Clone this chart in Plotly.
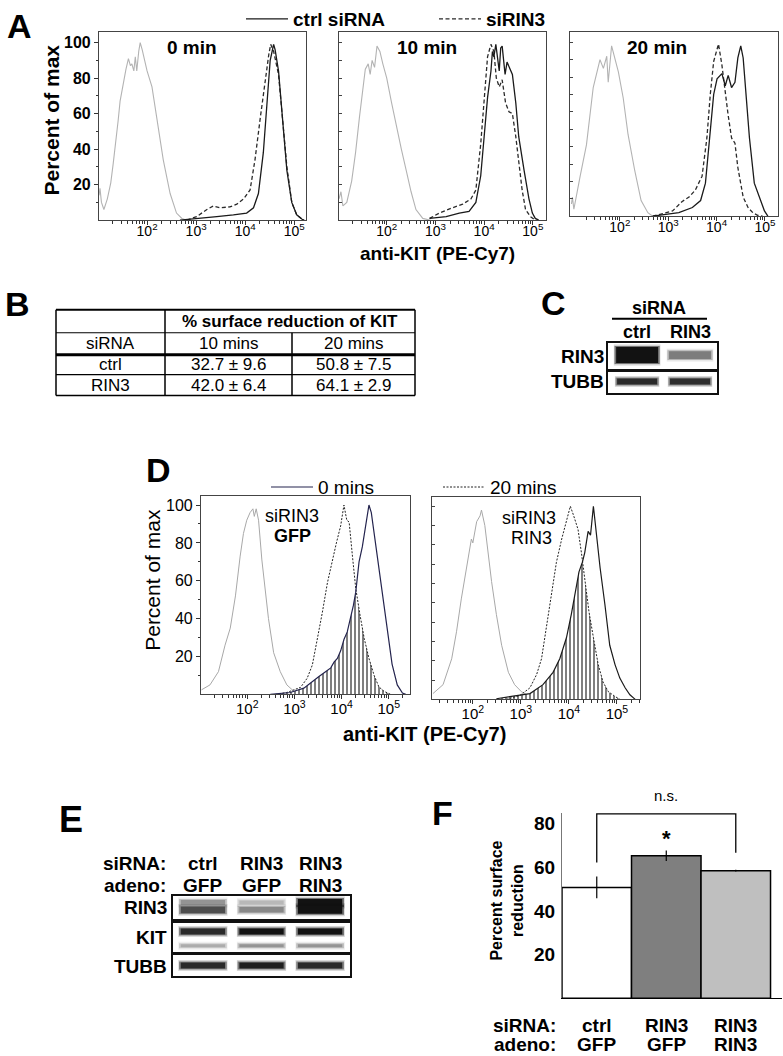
import plotly.graph_objects as go

W, H = 783, 1056
FONT = "Liberation Sans, Arial, Helvetica, sans-serif"

# ---------------- DATA ----------------
# Panel A: flow histograms, x = log10(anti-KIT PE-Cy7), y = percent of max
A0_iso_log = [1.02, 1.04, 1.07, 1.12, 1.19, 1.26, 1.31, 1.36, 1.41, 1.45, 1.52, 1.57, 1.62, 1.66, 1.69, 1.73, 1.76, 1.79, 1.83, 1.86, 1.9, 1.93, 2.0, 2.1, 2.2, 2.33, 2.47, 2.6, 2.71, 2.81]
A0_iso_pct = [14, 18, 10, 6, 12, 21, 32, 43, 56, 67, 79, 85, 91, 87, 88, 84, 92, 84, 95, 100, 96, 92, 84, 75, 56, 34, 15, 4, 1, 0]
A0_ctrl_log = [2.67, 3.08, 3.42, 3.76, 4.03, 4.17, 4.27, 4.37, 4.44, 4.51, 4.58, 4.61, 4.68, 4.75, 4.85, 4.95, 5.05, 5.16, 5.2]
A0_ctrl_pct = [0, 1.3, 2, 3, 4, 7, 15, 38, 66, 90, 99, 96, 84, 60, 28, 10, 3, 0.5, 0]
A0_si_log = [2.81, 3.01, 3.22, 3.35, 3.49, 3.69, 3.83, 3.97, 4.1, 4.2, 4.31, 4.41, 4.48, 4.52, 4.58, 4.68, 4.75, 4.85, 4.95, 5.05, 5.16, 5.2]
A0_si_pct = [0, 2, 6, 8, 7, 7.5, 9, 12, 17, 34, 58, 80, 93, 99, 95, 82, 62, 30, 10, 3, 0.5, 0]

A10_iso_log = [1.02, 1.06, 1.1, 1.18, 1.28, 1.36, 1.44, 1.5, 1.56, 1.62, 1.66, 1.7, 1.75, 1.8, 1.86, 1.92, 2.0, 2.1, 2.2, 2.3, 2.4, 2.5, 2.6, 2.74, 2.9]
A10_iso_pct = [12, 16, 8, 10, 22, 38, 58, 72, 85, 88, 82, 90, 86, 98, 95, 88, 80, 66, 52, 40, 28, 16, 6, 1, 0]
A10_ctrl_log = [2.88, 3.22, 3.49, 3.69, 3.83, 3.93, 4.0, 4.07, 4.14, 4.17, 4.2, 4.24, 4.31, 4.34, 4.37, 4.43, 4.47, 4.54, 4.58, 4.65, 4.71, 4.82, 4.92, 4.99, 5.05, 5.12]
A10_ctrl_pct = [1, 2, 4, 5, 10, 25, 47, 69, 84, 95, 92, 99, 84, 97, 98, 82, 89, 84, 82, 66, 47, 28, 12, 4, 1, 0]
A10_si_log = [2.88, 3.08, 3.35, 3.56, 3.73, 3.83, 3.93, 4.02, 4.07, 4.14, 4.2, 4.25, 4.31, 4.37, 4.44, 4.51, 4.58, 4.65, 4.71, 4.78, 4.85, 4.95, 5.05]
A10_si_pct = [1, 4, 7, 9, 12, 17, 43, 75, 92, 99, 95, 80, 75, 79, 66, 61, 60, 47, 32, 17, 6, 2, 0]

A20_iso_log = [1.0, 1.02, 1.05, 1.1, 1.18, 1.31, 1.45, 1.59, 1.66, 1.73, 1.76, 1.83, 1.9, 1.97, 2.07, 2.17, 2.31, 2.44, 2.58, 2.68]
A20_iso_pct = [7, 11, 4, 12, 23, 41, 74, 90, 85, 92, 77, 98, 91, 83, 68, 47, 26, 9, 2, 0]
A20_ctrl_log = [2.68, 2.95, 3.22, 3.5, 3.67, 3.77, 3.87, 3.94, 4.01, 4.11, 4.18, 4.24, 4.31, 4.38, 4.44, 4.5, 4.55, 4.61, 4.68, 4.78, 4.89, 4.99, 5.06]
A20_ctrl_pct = [0, 1, 2, 5, 9, 19, 49, 70, 79, 82, 75, 81, 74, 77, 91, 98, 91, 70, 45, 19, 11, 3, 0]
A20_si_log = [2.68, 3.09, 3.29, 3.43, 3.56, 3.7, 3.8, 3.87, 3.94, 4.01, 4.04, 4.11, 4.18, 4.24, 4.31, 4.38, 4.44, 4.55, 4.65, 4.75, 4.85, 4.95]
A20_si_pct = [0, 3, 8.5, 11, 15, 23, 45, 70, 89, 97, 99, 87, 70, 58, 45, 42, 28, 11, 5, 2, 0.5, 0]

A_titles = ["0 min", "10 min", "20 min"]
A_legend = ["ctrl siRNA", "siRIN3"]

# Panel B: % surface reduction of KIT
B_siRNA = ["ctrl", "RIN3"]
B_times = ["10 mins", "20 mins"]
B_mean_10 = [32.7, 42.0]
B_sd_10 = [9.6, 6.4]
B_mean_20 = [50.8, 64.1]
B_sd_20 = [7.5, 2.9]

# Panel C: western blot band intensities (0..1)
C_lanes = ["ctrl", "RIN3"]
C_rows = ["RIN3", "TUBB"]
C_RIN3_band = [1.0, 0.55]
C_TUBB_band = [0.9, 0.88]

# Panel D: flow histograms
D_gfp_iso_log = [1.03, 1.21, 1.39, 1.53, 1.64, 1.75, 1.85, 1.92, 1.99, 2.06, 2.12, 2.15, 2.19, 2.24, 2.31, 2.38, 2.45, 2.56, 2.7, 2.84, 2.99, 3.13, 3.27]
D_gfp_iso_pct = [2.4, 5, 12, 26, 35, 52, 73, 85, 92, 96, 98, 94, 98, 92, 71, 57, 40, 22, 12, 5, 1.6, 0.7, 0]
D_gfp_0_log = [2.49, 2.91, 3.2, 3.38, 3.52, 3.66, 3.77, 3.84, 3.91, 3.98, 4.05, 4.12, 4.19, 4.25, 4.3, 4.37, 4.44, 4.51, 4.58, 4.63, 4.69, 4.76, 4.86, 4.97, 5.07, 5.18, 5.29, 5.36]
D_gfp_0_pct = [0, 1, 3.3, 7, 9.4, 12, 14, 17, 19, 23, 29, 33, 40, 47, 54, 70, 78, 89, 100, 96, 85, 73, 52, 33, 16, 5, 0.7, 0]
D_gfp_20_log = [2.6, 2.84, 3.13, 3.27, 3.38, 3.49, 3.59, 3.7, 3.8, 3.89, 3.98, 4.05, 4.11, 4.16, 4.23, 4.3, 4.39, 4.48, 4.58, 4.69, 4.79, 4.9, 5.04]
D_gfp_20_pct = [0, 1, 3.7, 8.5, 15.5, 29.5, 43, 59, 71, 80, 89, 100, 92, 91, 73, 56, 42, 29.5, 19, 10, 4, 1.6, 0]
D_gfp_cross = 4.3

D_rin_iso_log = [1.17, 1.38, 1.56, 1.66, 1.76, 1.87, 1.97, 2.0, 2.08, 2.15, 2.18, 2.25, 2.32, 2.39, 2.49, 2.6, 2.74, 2.87, 3.01, 3.12, 3.26]
D_rin_iso_pct = [3, 7.6, 21, 35, 52, 69, 83, 81, 92, 95, 98, 90, 75, 61, 44, 28, 14, 7.6, 4, 2.4, 0.5]
D_rin_0_log = [2.49, 2.84, 3.19, 3.46, 3.67, 3.81, 3.95, 4.05, 4.14, 4.21, 4.28, 4.33, 4.4, 4.45, 4.51, 4.58, 4.65, 4.75, 4.85, 4.96, 5.06, 5.17, 5.27, 5.38]
D_rin_0_pct = [0.3, 1.5, 3, 7.6, 14, 21, 32, 44, 56, 66, 71, 76, 87, 85, 100, 83, 68, 49, 28, 18, 11, 6, 2.4, 0]
D_rin_20_log = [2.7, 2.98, 3.19, 3.33, 3.43, 3.53, 3.64, 3.74, 3.85, 3.95, 4.03, 4.1, 4.19, 4.26, 4.33, 4.42, 4.51, 4.61, 4.71, 4.82, 4.96, 5.06]
D_rin_20_pct = [0, 2, 6, 13, 21, 37, 56, 71, 83, 93, 100, 95, 88, 76, 61, 45, 32, 18, 9, 4, 1.5, 0]
D_rin_cross = 4.3
D_legend = ["0 mins", "20 mins"]

# Panel E: western blot band intensities (0..1)
E_siRNA = ["ctrl", "RIN3", "RIN3"]
E_adeno = ["GFP", "GFP", "RIN3"]
E_rows = ["RIN3", "KIT", "TUBB"]
E_RIN3_upper = [0.45, 0.3, 1.0]
E_RIN3_lower = [0.75, 0.5, 1.0]
E_KIT_upper = [0.9, 1.0, 1.0]
E_KIT_lower = [0.35, 0.45, 0.45]
E_TUBB_band = [0.9, 0.95, 0.9]

# Panel F: percent surface reduction
F_siRNA = ["ctrl", "RIN3", "RIN3"]
F_adeno = ["GFP", "GFP", "RIN3"]
F_mean = [50.8, 65.4, 58.5]
F_err = [5.0, 2.4, 0.4]
F_colors = ["#ffffff", "#7f7f7f", "#bfbfbf"]

# ---------------- HELPERS ----------------
def X(px):
    return px / W


def Y(py):
    return 1 - py / H


fig = go.Figure()
layout = {}
annotations = []
shapes = []


def ref(i):
    return ("x", "y") if i == 1 else (f"x{i}", f"y{i}")


def set_axes(i, left, right, top, bottom, xkw, ykw):
    xr, yr = ref(i)
    xn = "xaxis" if i == 1 else f"xaxis{i}"
    yn = "yaxis" if i == 1 else f"yaxis{i}"
    layout[xn] = dict(domain=[X(left), X(right)], anchor=yr, fixedrange=True, **xkw)
    layout[yn] = dict(domain=[Y(bottom), Y(top)], anchor=xr, fixedrange=True, **ykw)


def ann(text, x, y, size, bold=False, xanchor="center", yanchor="middle", angle=0, xref="paper", color="black"):
    annotations.append(dict(
        text=text, x=x if xref != "paper" else X(x), y=Y(y), xref=xref, yref="paper",
        xanchor=xanchor, yanchor=yanchor, showarrow=False, textangle=angle, borderpad=0,
        font=dict(family=FONT, size=size, color=color, weight="bold" if bold else "normal")))


def line_shape(x0, y0, x1, y1, width=1.2, color="black"):
    shapes.append(dict(type="line", xref="paper", yref="paper", x0=X(x0), y0=Y(y0), x1=X(x1), y1=Y(y1),
                       line=dict(color=color, width=width)))


MINOR = [k * 10 ** d for d in range(1, 6) for k in range(2, 10)]


def flow_x(rng, size, standoff):
    return dict(type="log", range=rng, tickvals=[1e2, 1e3, 1e4, 1e5],
                ticktext=["10<sup>2</sup>", "10<sup>3</sup>", "10<sup>4</sup>", "10<sup>5</sup>"],
                ticks="outside", ticklen=4, tickwidth=1, tickcolor="#333", ticklabelstandoff=standoff,
                minor=dict(tickvals=MINOR, ticks="outside", ticklen=2.5, tickwidth=1, tickcolor="#333"),
                showline=True, mirror=True, linecolor="#444", linewidth=1.2,
                showgrid=False, zeroline=False,
                tickfont=dict(family=FONT, size=size, color="black"))


def flow_y(rng, labels, size=16, bold=False):
    d = dict(range=rng, showline=True, mirror=True, linecolor="#444", linewidth=1.2,
             showgrid=False, zeroline=False)
    if labels:
        d.update(tickvals=[20, 40, 60, 80, 100], ticks="outside", ticklen=4, tickcolor="#333",
                 tickfont=dict(family=FONT, size=size, color="black", weight="bold" if bold else "normal"),
                 minor=dict(tickvals=[10, 30, 50, 70, 90], ticks="outside", ticklen=2, tickcolor="#333"))
    else:
        d.update(tickvals=[10, 20, 30, 40, 50, 60, 70, 80, 90, 100], ticks="inside", ticklen=3,
                 tickcolor="#444", showticklabels=False)
    return d


def flow_line(i, logs, pct, color, width=1.1, dash="solid", name=None, legend=None):
    xr, yr = ref(i)
    fig.add_trace(go.Scatter(
        x=[10 ** v for v in logs], y=pct, mode="lines",
        line=dict(color=color, width=width, dash=dash),
        xaxis=xr, yaxis=yr, name=name if name else "", showlegend=name is not None,
        legend=legend if legend else "legend", hoverinfo="skip"))


def hatch(i, s_log, s_pct, d_log, d_pct, cross):
    xr, yr = ref(i)
    hx = [l for l in s_log if l <= cross] + [l for l in d_log if l > cross]
    hy = [p for l, p in zip(s_log, s_pct) if l <= cross] + [p for l, p in zip(d_log, d_pct) if l > cross]
    fig.add_trace(go.Scatter(
        x=[10 ** v for v in hx], y=hy, mode="lines", line=dict(width=0, color="black"),
        fill="tozeroy", fillcolor="rgba(0,0,0,0)",
        fillpattern=dict(shape="|", fgcolor="black", bgcolor="white", size=4, solidity=0.5),
        xaxis=xr, yaxis=yr, showlegend=False, hoverinfo="skip"))


def band(i, lane, ypos, inten, thick, half=0.43):
    xr, yr = ref(i)
    g = int(round(255 * (1 - 0.93 * inten)))
    for extra, alpha, hw in ((5, 0.18, 1.0), (2, 0.5, 0.97), (0, 1.0, 0.9)):
        h = half * hw
        fig.add_trace(go.Scatter(
            x=[lane - h, lane + h], y=[ypos, ypos], mode="lines",
            line=dict(color=f"rgba({g},{g},{g},{alpha})", width=thick + extra),
            xaxis=xr, yaxis=yr, showlegend=False, hoverinfo="skip"))


blot_x = lambda rng: dict(range=rng, showline=True, mirror=True, linecolor="#111", linewidth=1.5,
                          ticks="", showticklabels=False, showgrid=False, zeroline=False)
blot_y = dict(range=[0, 1], showline=True, mirror=True, linecolor="#111", linewidth=1.5,
              ticks="", showticklabels=False, showgrid=False, zeroline=False)

ISO = "#b3b3b3"
DARK = "#1a1a1a"

# ---------------- PANEL A ----------------
set_axes(1, 99, 306, 28, 217, flow_x([1.02, 5.24], 14, -6), flow_y([0, 106], True, 16, True))
set_axes(2, 339, 546, 28, 217, flow_x([1.02, 5.27], 14, -6), flow_y([0, 106], False))
set_axes(3, 570, 778, 28, 213, flow_x([0.97, 5.27], 14, -6), flow_y([0, 106], False))

A_sets = [(A0_iso_log, A0_iso_pct, A0_ctrl_log, A0_ctrl_pct, A0_si_log, A0_si_pct),
          (A10_iso_log, A10_iso_pct, A10_ctrl_log, A10_ctrl_pct, A10_si_log, A10_si_pct),
          (A20_iso_log, A20_iso_pct, A20_ctrl_log, A20_ctrl_pct, A20_si_log, A20_si_pct)]
for k, (il, ip, cl, cp, sl, sp) in enumerate(A_sets):
    i = k + 1
    flow_line(i, il, ip, ISO, 1.1)
    flow_line(i, sl, sp, "#2a2a2a", 1.3, "4px,2.5px",
              name=f"<b>{A_legend[1]}</b>" if k == 0 else None, legend="legend")
    flow_line(i, cl, cp, DARK, 1.3, "solid",
              name=f"<b>{A_legend[0]}</b>" if k == 0 else None, legend="legend")

ann("A", 19, 22, 34, True)
ann(A_titles[0], 192, 44, 19, True)
ann(A_titles[1], 427, 44, 19, True)
ann(A_titles[2], 657, 44, 19, True)
ann("Percent of max", 52, 117, 21, True, angle=-90)
ann("anti-KIT (PE-Cy7)", 438, 250, 19, True)

# ---------------- PANEL B (table) ----------------
ann("B", 17, 301, 34, True)
tx = [56, 165, 292, 415]
ty = [307, 330, 352, 372, 393]
line_shape(tx[0], ty[0], tx[3], ty[0], 2)
line_shape(tx[0], ty[1], tx[3], ty[1], 1.2)
line_shape(tx[0], ty[2], tx[3], ty[2], 3)
line_shape(tx[0], ty[3], tx[3], ty[3], 1.2)
line_shape(tx[0], ty[4], tx[3], ty[4], 1.6)
line_shape(tx[0], ty[0], tx[0], ty[4], 1.5)
line_shape(tx[1], ty[0], tx[1], ty[4], 1.5)
line_shape(tx[2], ty[1], tx[2], ty[4], 1.5)
line_shape(tx[3], ty[0], tx[3], ty[4], 1.5)
ann("% surface reduction of KIT", (tx[1] + tx[3]) / 2, (ty[0] + ty[1]) / 2, 17, True)
ann("siRNA", (tx[0] + tx[1]) / 2, (ty[1] + ty[2]) / 2, 17)
ann(B_times[0], (tx[1] + tx[2]) / 2, (ty[1] + ty[2]) / 2, 17)
ann(B_times[1], (tx[2] + tx[3]) / 2, (ty[1] + ty[2]) / 2, 17)
for r in range(2):
    yc = (ty[2 + r] + ty[3 + r]) / 2
    ann(B_siRNA[r], (tx[0] + tx[1]) / 2, yc, 17)
    ann(f"{B_mean_10[r]:.1f} ± {B_sd_10[r]:.1f}", (tx[1] + tx[2]) / 2, yc, 17)
    ann(f"{B_mean_20[r]:.1f} ± {B_sd_20[r]:.1f}", (tx[2] + tx[3]) / 2, yc, 17)

# ---------------- PANEL C (blot) ----------------
ann("C", 553, 300, 34, True)
ann("siRNA", 659, 305, 18, True)
line_shape(612, 316, 707, 316, 2)
set_axes(6, 608, 717, 340, 367, blot_x([-0.55, 1.51]), blot_y)
set_axes(7, 608, 717, 368, 390, blot_x([-0.55, 1.51]), blot_y)
for lane in range(len(C_lanes)):
    annotations.append(dict(text=C_lanes[lane], x=lane, y=Y(329), xref="x6", yref="paper",
                            showarrow=False, xanchor="center", yanchor="middle", borderpad=0,
                            font=dict(family=FONT, size=18, color="black", weight="bold")))
    band(6, lane, 0.54, C_RIN3_band[lane], 4 + 12 * C_RIN3_band[lane] ** 2, 0.44)
    band(7, lane, 0.5, C_TUBB_band[lane], 6, 0.42)
ann(C_rows[0], 605, 354, 19, True, xanchor="right")
ann(C_rows[1], 605, 379, 19, True, xanchor="right")

# ---------------- PANEL D ----------------
set_axes(4, 201, 410, 494, 693, flow_x([1.02, 5.45], 15, -3), flow_y([0, 104.7], True, 16, False))
set_axes(5, 432, 640, 495, 698, flow_x([1.15, 5.48], 15, -3), flow_y([0, 104.7], False))

flow_line(4, D_gfp_iso_log, D_gfp_iso_pct, "#a8a8a8", 1.0)
hatch(4, D_gfp_0_log, D_gfp_0_pct, D_gfp_20_log, D_gfp_20_pct, D_gfp_cross)
flow_line(4, D_gfp_20_log, D_gfp_20_pct, "#222", 1.0, "2px,1.5px")
flow_line(4, D_gfp_0_log, D_gfp_0_pct, "#24244e", 1.2, "solid", name=D_legend[0], legend="legend2")

flow_line(5, D_rin_iso_log, D_rin_iso_pct, "#a8a8a8", 1.0)
hatch(5, D_rin_0_log, D_rin_0_pct, D_rin_20_log, D_rin_20_pct, D_rin_cross)
flow_line(5, D_rin_20_log, D_rin_20_pct, "#222", 1.0, "2px,1.5px", name=D_legend[1], legend="legend3")
flow_line(5, D_rin_0_log, D_rin_0_pct, "#1a1a1a", 1.2, "solid")

ann("D", 158, 468, 34, True)
ann("Percent of max", 153, 578, 21, False, angle=-90)
ann("siRIN3", 292, 514, 18)
ann("GFP", 292, 534, 18, True)
ann("siRIN3", 529, 516, 18)
ann("RIN3", 531, 536, 18)
ann("anti-KIT (PE-Cy7)", 424, 733, 20, True)

# ---------------- PANEL E (blot) ----------------
ann("E", 71, 819, 36, True)
ann("siRNA:", 167, 863, 19, True, xanchor="right")
ann("adeno:", 167, 885, 19, True, xanchor="right")
set_axes(8, 173, 350, 895, 918, blot_x([-0.51, 2.51]), blot_y)
set_axes(9, 173, 350, 922, 952, blot_x([-0.51, 2.51]), blot_y)
set_axes(10, 173, 350, 955, 976, blot_x([-0.51, 2.51]), blot_y)
for lane in range(len(E_siRNA)):
    for txt, yy in ((E_siRNA[lane], 863), (E_adeno[lane], 885)):
        annotations.append(dict(text=txt, x=lane, y=Y(yy), xref="x8", yref="paper",
                                showarrow=False, xanchor="center", yanchor="middle", borderpad=0,
                                font=dict(family=FONT, size=19, color="black", weight="bold")))
    band(8, lane, 0.7, E_RIN3_upper[lane], 3 + 4 * E_RIN3_upper[lane], 0.42)
    band(8, lane, 0.38, E_RIN3_lower[lane], 3 + 5 * E_RIN3_lower[lane], 0.42)
    band(9, lane, 0.7, E_KIT_upper[lane], 6, 0.42)
    band(9, lane, 0.22, E_KIT_lower[lane], 3, 0.42)
    band(10, lane, 0.52, E_TUBB_band[lane], 6, 0.42)
for r, yy in zip(E_rows, (907, 937, 966)):
    ann(r, 168, yy, 19, True, xanchor="right")

# ---------------- PANEL F (bars) ----------------
set_axes(11, 562, 782, 812, 998,
         dict(range=[-0.5, 2.665], showline=True, linecolor="black", linewidth=1.3, ticks="",
              showticklabels=False, showgrid=False, zeroline=False),
         dict(range=[0, 85], tickvals=[20, 40, 60, 80], showline=True, linecolor="#777", linewidth=1,
              ticks="", ticklabelstandoff=2, showgrid=False, zeroline=False,
              tickfont=dict(family=FONT, size=19, color="black", weight="bold")))
fig.add_trace(go.Bar(
    x=list(range(len(F_mean))), y=F_mean, width=1,
    marker=dict(color=F_colors, line=dict(color="black", width=1.5)),
    error_y=dict(type="data", array=F_err, color="black", thickness=1.2, width=0),
    xaxis="x11", yaxis="y11", showlegend=False, hoverinfo="skip"))

# significance bracket (ctrl vs RIN3/RIN3) and star
shapes.append(dict(type="path", xref="x11", yref="y11",
                   path="M 0,62.2 L 0,84.6 L 2,84.6 L 2,66.7",
                   line=dict(color="black", width=1.3)))
annotations.append(dict(text="n.s.", x=1, y=Y(805), xref="x11", yref="paper", showarrow=False,
                        font=dict(family=FONT, size=15, color="black")))
annotations.append(dict(text="*", x=1, y=F_mean[1] + F_err[1] + 5.5, xref="x11", yref="y11",
                        showarrow=False, font=dict(family=FONT, size=22, color="black", weight="bold")))

ann("F", 442, 812, 34, True)
ann("Percent surface<br>reduction", 507, 900, 16, True, angle=-90)
ann("siRNA:", 557, 1025, 19, True, xanchor="right")
ann("adeno:", 557, 1044, 19, True, xanchor="right")
for k in range(len(F_mean)):
    for txt, yy in ((F_siRNA[k], 1025), (F_adeno[k], 1044)):
        annotations.append(dict(text=txt, x=k, y=Y(yy), xref="x11", yref="paper", borderpad=0,
                                showarrow=False, xanchor="center", yanchor="middle",
                                font=dict(family=FONT, size=19, color="black", weight="bold")))

# ---------------- LAYOUT ----------------
leg_common = dict(orientation="h", xanchor="left", yanchor="middle", bgcolor="rgba(0,0,0,0)",
                  borderwidth=0, tracegroupgap=0, itemwidth=42)
fig.update_layout(
    width=W, height=H, margin=dict(l=0, r=0, t=0, b=0),
    paper_bgcolor="white", plot_bgcolor="white",
    font=dict(family=FONT, color="black"),
    annotations=annotations, shapes=shapes,
    legend=dict(x=X(241), y=Y(15), font=dict(family=FONT, size=19, color="black"),
                entrywidth=136, traceorder="reversed", **leg_common),
    legend2=dict(x=X(266), y=Y(485), font=dict(family=FONT, size=19, color="black"), **leg_common),
    legend3=dict(x=X(438), y=Y(485), font=dict(family=FONT, size=19, color="black"), **leg_common),
    **layout,
)

fig.write_html("out.html", config={"displayModeBar": False},
               post_script="document.body.style.margin='0px';document.body.style.overflow='hidden';")
